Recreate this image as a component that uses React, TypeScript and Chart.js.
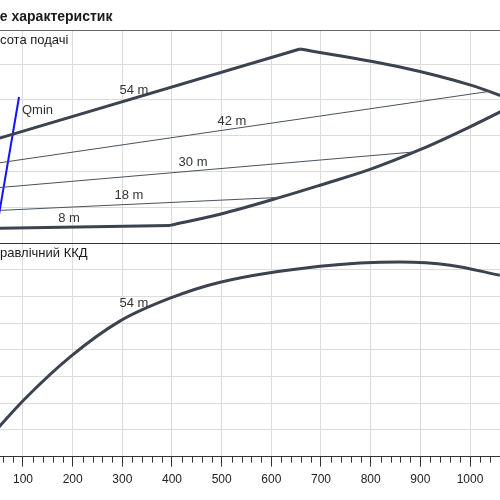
import React, { useEffect, useRef } from "react";
import { Chart, registerables } from "chart.js";

Chart.register(...registerables);

// ---- axes ----
const X_MIN = 53.7;
const X_MAX = 1060.4;
const xTickValues = [100, 200, 300, 400, 500, 600, 700, 800, 900, 1000];
const X_MINOR_STEP = 20;
const H_MIN = 0;
const H_MAX = 59.5;
const hGridValues = [0, 10, 20, 30, 40, 50];
const E_MIN = 0;
const E_MAX = 80;
const eGridValues = [0, 10, 20, 30, 40, 50, 60, 70, 80];

// ---- texts ----
const chartTitle = "Поле характеристик";
const chartTitleHidden = "Пол";
const headTitle = "Висота подачі";
const headTitleHidden = "Ви";
const effTitle = "Гідравлічний ККД";
const effTitleHidden = "Гід";

// ---- head panel (top) ----
const line54X = [40, 657.7];
const line54Y = [28.8, 54.2];

const maxCurveX = [657.7, 859, 1000, 1099];
const maxCurveY = [54.2, 49.2, 44.2, 39.3];

const lowerCurveX = [396, 496.6, 617.4, 698, 798.6, 899.3, 1000, 1099];
const lowerCurveY = [5.0, 8.1, 12.8, 16.2, 20.6, 26.1, 32.5, 39.3];

const line8X = [40, 396];
const line8Y = [4.15, 5.0];

const line42X = [40, 1040];
const line42Y = [22.2, 42.4];

const line30X = [40, 889];
const line30Y = [15.4, 25.5];

const line18X = [40, 617.4];
const line18Y = [9.1, 12.8];

const qminX = [47, 92];
const qminY = [4.2, 40.8];

const headLabels = ["54 m", "42 m", "30 m", "18 m", "8 m"];
const headLabelX = [323.5, 520.8, 442.3, 313.4, 192.6];
const headLabelY = [42.7, 33.9, 22.5, 13.4, 7.0];

const qminLabel = "Qmin";
const qminLabelX = 98;
const qminLabelY = 37.2;

// ---- efficiency panel (bottom) ----
const effX = [30, 54, 104, 195, 295, 396, 497, 698, 859, 960, 1060];
const effY = [6.5, 11.6, 21.7, 37.4, 50.8, 59.4, 65.4, 71.4, 73.0, 71.8, 68.0];

const effLabels = ["54 m"];
const effLabelX = [323.5];
const effLabelY = [57.4];

const FONT = '"Liberation Sans", Arial, sans-serif';
const THICK = "#3b4350";
const THIN = "#4a525c";
const GRID = "#dcdcdc";

const pts = (xs: number[], ys: number[]) => xs.map((x, i) => ({ x, y: ys[i] }));

const overlay = {
  id: "overlay",
  afterDraw(chart: any) {
    const { ctx, chartArea, scales } = chart;
    const x = scales.x;
    const yH = scales.yH;
    const yE = scales.yE;
    ctx.save();

    // borders
    ctx.lineWidth = 1;
    ctx.strokeStyle = "#666";
    ctx.beginPath();
    ctx.moveTo(chartArea.left, Math.round(yH.top) + 0.5);
    ctx.lineTo(chartArea.right, Math.round(yH.top) + 0.5);
    ctx.stroke();
    ctx.strokeStyle = "#333";
    ctx.beginPath();
    ctx.moveTo(chartArea.left, Math.round(yH.bottom) + 0.5);
    ctx.lineTo(chartArea.right, Math.round(yH.bottom) + 0.5);
    ctx.stroke();

    // minor ticks
    ctx.strokeStyle = "#333";
    const start = Math.ceil(x.min / X_MINOR_STEP) * X_MINOR_STEP;
    for (let v = start; v <= x.max; v += X_MINOR_STEP) {
      if (xTickValues.includes(v)) continue;
      const px = Math.round(x.getPixelForValue(v)) + 0.5;
      ctx.beginPath();
      ctx.moveTo(px, chartArea.bottom);
      ctx.lineTo(px, chartArea.bottom + 6);
      ctx.stroke();
    }

    // titles
    ctx.fillStyle = "#1a1a1a";
    ctx.textAlign = "left";
    ctx.textBaseline = "alphabetic";
    ctx.font = `bold 14px ${FONT}`;
    ctx.fillText(chartTitle, chartArea.left - ctx.measureText(chartTitleHidden).width, 21);
    ctx.font = `13px ${FONT}`;
    ctx.fillText(headTitle, chartArea.left - ctx.measureText(headTitleHidden).width, yH.top + 14);
    ctx.fillText(effTitle, chartArea.left - ctx.measureText(effTitleHidden).width, yE.top + 14);

    // curve labels
    ctx.fillStyle = "#333";
    ctx.textAlign = "center";
    ctx.textBaseline = "middle";
    headLabels.forEach((t, i) => {
      ctx.fillText(t, x.getPixelForValue(headLabelX[i]), yH.getPixelForValue(headLabelY[i]));
    });
    effLabels.forEach((t, i) => {
      ctx.fillText(t, x.getPixelForValue(effLabelX[i]), yE.getPixelForValue(effLabelY[i]));
    });
    ctx.textAlign = "left";
    ctx.fillText(qminLabel, x.getPixelForValue(qminLabelX), yH.getPixelForValue(qminLabelY));

    ctx.restore();
  },
};

export default function App() {
  const ref = useRef<HTMLCanvasElement>(null);

  useEffect(() => {
    if (!ref.current) return;
    const thick = (data: any, curve: boolean) => ({
      data,
      yAxisID: "yH",
      borderColor: THICK,
      borderWidth: 3,
      pointRadius: 0,
      fill: false,
      cubicInterpolationMode: curve ? "monotone" : "default",
      tension: 0,
    });
    const thin = (data: any) => ({
      data,
      yAxisID: "yH",
      borderColor: THIN,
      borderWidth: 1,
      pointRadius: 0,
      fill: false,
      tension: 0,
    });
    const setTicks = (values: number[]) => (axis: any) => {
      axis.ticks = values.map((v) => ({ value: v }));
    };
    const chart = new Chart(ref.current, {
      type: "line",
      data: {
        datasets: [
          thin(pts(line42X, line42Y)),
          thin(pts(line30X, line30Y)),
          thin(pts(line18X, line18Y)),
          thick(pts(line54X, line54Y), false),
          thick(pts(maxCurveX, maxCurveY), true),
          thick(pts(lowerCurveX, lowerCurveY), true),
          thick(pts(line8X, line8Y), false),
          {
            data: pts(qminX, qminY),
            yAxisID: "yH",
            borderColor: "#1414ff",
            borderWidth: 2,
            pointRadius: 0,
            fill: false,
            tension: 0,
          },
          {
            data: pts(effX, effY),
            yAxisID: "yE",
            borderColor: THICK,
            borderWidth: 3,
            pointRadius: 0,
            fill: false,
            cubicInterpolationMode: "monotone",
          },
        ] as any,
      },
      options: {
        animation: false,
        responsive: false,
        maintainAspectRatio: false,
        layout: { padding: { top: 30, bottom: 7, left: 0, right: 0 } },
        plugins: { legend: { display: false }, tooltip: { enabled: false }, title: { display: false } },
        scales: {
          x: {
            type: "linear",
            position: "bottom",
            min: X_MIN,
            max: X_MAX,
            bounds: "data",
            afterBuildTicks: setTicks(xTickValues),
            ticks: {
              callback: (v: any) => String(v),
              color: "#222",
              font: { family: FONT, size: 12 },
              padding: 6,
              maxRotation: 0,
              autoSkip: false,
            },
            grid: { color: GRID, lineWidth: 1, tickLength: 10, tickColor: "#333", tickWidth: 1 },
            border: { display: true, color: "#333", width: 1 },
          },
          yE: {
            type: "linear",
            position: "left",
            stack: "panels",
            stackWeight: 1,
            min: E_MIN,
            max: E_MAX,
            bounds: "data",
            afterBuildTicks: setTicks(eGridValues),
            ticks: { display: false },
            grid: { color: GRID, lineWidth: 1, drawTicks: false },
            border: { display: false },
          },
          yH: {
            type: "linear",
            position: "left",
            stack: "panels",
            stackWeight: 1,
            min: H_MIN,
            max: H_MAX,
            bounds: "data",
            afterBuildTicks: setTicks(hGridValues),
            ticks: { display: false },
            grid: { color: GRID, lineWidth: 1, drawTicks: false },
            border: { display: false },
          },
        } as any,
      },
      plugins: [overlay],
    });
    return () => chart.destroy();
  }, []);

  return (
    <div style={{ position: "absolute", left: 0, top: 0, width: 500, height: 500, background: "#fff" }}>
      <canvas ref={ref} width={500} height={500} style={{ display: "block" }} />
    </div>
  );
}
